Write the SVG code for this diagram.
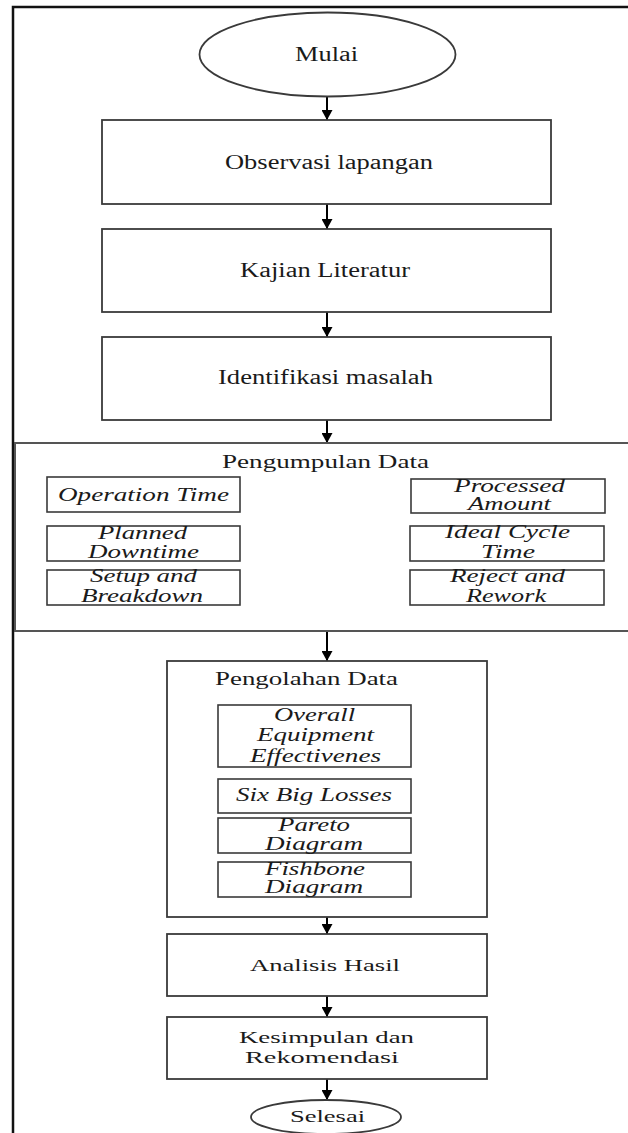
<svg xmlns="http://www.w3.org/2000/svg" width="628" height="1133" viewBox="0 0 628 1133">
<defs>
<style>
.box{fill:#fff;stroke:#3a3a3a;stroke-width:1.8}
.sub{fill:#fff;stroke:#3a3a3a;stroke-width:1.6}
.frame{fill:none;stroke:#111;stroke-width:2.5}
.t{font-family:"Liberation Serif","Times New Roman",serif;fill:#1a1a1a;text-anchor:start}
.m{font-size:20px}
.h{font-size:18px}
.i{font-size:18px;font-style:italic}
.s{font-size:17px}
.conn{stroke:#000;stroke-width:2;fill:none}
</style>
<marker id="ah" viewBox="0 0 10 11" markerWidth="10" markerHeight="11" refX="10" refY="5.5" orient="auto" markerUnits="userSpaceOnUse">
<path d="M0,0 L10,5.5 L0,11 Z" fill="#000"/>
</marker>
</defs>
<rect width="628" height="1133" fill="#fff"/>
<path class="frame" d="M13,1133 L13,7 L628,7"/>

<g id="connectors">
<line class="conn" x1="327" y1="97" x2="327" y2="120" marker-end="url(#ah)"/>
<line class="conn" x1="327" y1="204" x2="327" y2="229" marker-end="url(#ah)"/>
<line class="conn" x1="327" y1="312" x2="327" y2="337" marker-end="url(#ah)"/>
<line class="conn" x1="327" y1="420" x2="327" y2="443" marker-end="url(#ah)"/>
<line class="conn" x1="327" y1="631" x2="327" y2="661" marker-end="url(#ah)"/>
<line class="conn" x1="327" y1="917" x2="327" y2="934" marker-end="url(#ah)"/>
<line class="conn" x1="327" y1="996" x2="327" y2="1017" marker-end="url(#ah)"/>
<line class="conn" x1="327" y1="1079" x2="327" y2="1100" marker-end="url(#ah)"/>
</g>

<g id="mulai">
<ellipse class="box" cx="327.5" cy="54.5" rx="128" ry="42"/>
<text class="t m" x="295" y="61" textLength="63" lengthAdjust="spacingAndGlyphs">Mulai</text>
</g>
<g id="observasi">
<rect class="box" x="102" y="120" width="449" height="84"/>
<text class="t m" x="225" y="169" textLength="208" lengthAdjust="spacingAndGlyphs">Observasi lapangan</text>
</g>
<g id="kajian">
<rect class="box" x="102" y="229" width="449" height="83"/>
<text class="t m" x="240" y="277" textLength="170" lengthAdjust="spacingAndGlyphs">Kajian Literatur</text>
</g>
<g id="identifikasi">
<rect class="box" x="102" y="337" width="449" height="83"/>
<text class="t m" x="218" y="384" textLength="215" lengthAdjust="spacingAndGlyphs">Identifikasi masalah</text>
</g>

<g id="pengumpulan">
<rect x="15" y="443" width="630" height="188" fill="#fff" stroke="#555" stroke-width="2"/>
<text class="t h" x="222" y="468" textLength="207" lengthAdjust="spacingAndGlyphs">Pengumpulan Data</text>
</g>
<g id="operation-time">
<rect class="sub" x="47" y="477" width="193" height="35"/>
<text class="t i" x="58" y="501" textLength="171" lengthAdjust="spacingAndGlyphs">Operation Time</text>
</g>
<g id="planned-downtime">
<rect class="sub" x="47" y="526" width="193" height="35"/>
<text class="t i" x="98" y="539" textLength="89" lengthAdjust="spacingAndGlyphs">Planned</text>
<text class="t i" x="88" y="558" textLength="111" lengthAdjust="spacingAndGlyphs">Downtime</text>
</g>
<g id="setup-breakdown">
<rect class="sub" x="47" y="570" width="193" height="35"/>
<text class="t i" x="90" y="582" textLength="107" lengthAdjust="spacingAndGlyphs">Setup and</text>
<text class="t i" x="81" y="602" textLength="122" lengthAdjust="spacingAndGlyphs">Breakdown</text>
</g>
<g id="processed-amount">
<rect class="sub" x="411" y="479" width="194" height="34"/>
<text class="t i" x="454" y="492" textLength="111" lengthAdjust="spacingAndGlyphs">Processed</text>
<text class="t i" x="468" y="510" textLength="83" lengthAdjust="spacingAndGlyphs">Amount</text>
</g>
<g id="ideal-cycle-time">
<rect class="sub" x="410" y="526" width="194" height="35"/>
<text class="t i" x="445" y="538" textLength="125" lengthAdjust="spacingAndGlyphs">Ideal Cycle</text>
<text class="t i" x="481" y="558" textLength="54" lengthAdjust="spacingAndGlyphs">Time</text>
</g>
<g id="reject-rework">
<rect class="sub" x="410" y="570" width="194" height="35"/>
<text class="t i" x="450" y="582" textLength="115" lengthAdjust="spacingAndGlyphs">Reject and</text>
<text class="t i" x="466" y="602" textLength="80" lengthAdjust="spacingAndGlyphs">Rework</text>
</g>

<g id="pengolahan">
<rect class="box" x="167" y="661" width="320" height="256"/>
<text class="t h" x="215" y="685" textLength="183" lengthAdjust="spacingAndGlyphs">Pengolahan Data</text>
</g>
<g id="oee">
<rect class="sub" x="218" y="705" width="193" height="62"/>
<text class="t i" x="274" y="721" textLength="81" lengthAdjust="spacingAndGlyphs">Overall</text>
<text class="t i" x="257" y="741" textLength="117" lengthAdjust="spacingAndGlyphs">Equipment</text>
<text class="t i" x="250" y="762" textLength="131" lengthAdjust="spacingAndGlyphs">Effectivenes</text>
</g>
<g id="six-big-losses">
<rect class="sub" x="218" y="779" width="193" height="34"/>
<text class="t i" x="236" y="801" textLength="156" lengthAdjust="spacingAndGlyphs">Six Big Losses</text>
</g>
<g id="pareto">
<rect class="sub" x="218" y="818" width="193" height="35"/>
<text class="t i" x="278" y="831" textLength="72" lengthAdjust="spacingAndGlyphs">Pareto</text>
<text class="t i" x="265" y="850" textLength="98" lengthAdjust="spacingAndGlyphs">Diagram</text>
</g>
<g id="fishbone">
<rect class="sub" x="218" y="862" width="193" height="35"/>
<text class="t i" x="265" y="875" textLength="100" lengthAdjust="spacingAndGlyphs">Fishbone</text>
<text class="t i" x="265" y="893" textLength="98" lengthAdjust="spacingAndGlyphs">Diagram</text>
</g>

<g id="analisis">
<rect class="box" x="167" y="934" width="320" height="62"/>
<text class="t s" x="250" y="971" textLength="150" lengthAdjust="spacingAndGlyphs">Analisis Hasil</text>
</g>
<g id="kesimpulan">
<rect class="box" x="167" y="1017" width="320" height="62"/>
<text class="t s" x="239" y="1043" textLength="175" lengthAdjust="spacingAndGlyphs">Kesimpulan dan</text>
<text class="t s" x="245" y="1063" textLength="154" lengthAdjust="spacingAndGlyphs">Rekomendasi</text>
</g>
<g id="selesai">
<ellipse class="box" cx="326" cy="1117" rx="75" ry="17"/>
<text class="t s" x="290" y="1122" textLength="75" lengthAdjust="spacingAndGlyphs">Selesai</text>
</g>
</svg>
